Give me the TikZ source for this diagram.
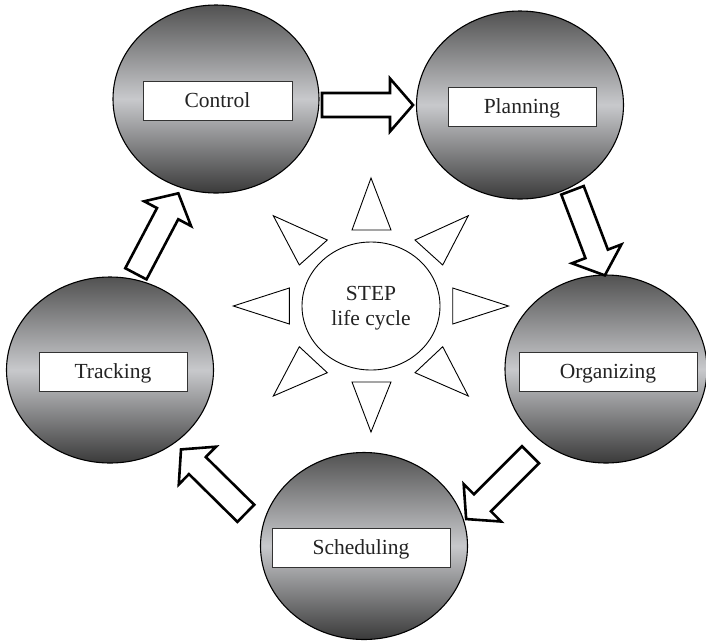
\documentclass[tikz,border=0pt]{standalone}
\usepackage{fontspec}
\setmainfont{Liberation Serif}
\usetikzlibrary{shapes.geometric}
\definecolor{shadetop}{RGB}{82,82,82}
\definecolor{shademid}{RGB}{200,201,204}
\definecolor{shadebot}{RGB}{58,58,58}
\definecolor{inktext}{RGB}{35,35,35}
\begin{document}
\begin{tikzpicture}[x=1pt,y=-1pt,
  phasecircle/.style={ellipse, draw=black, line width=1.1pt, inner sep=0pt, outer sep=0pt,
    top color=shadetop, bottom color=shadebot, middle color=shademid},
  namebox/.style={draw=black!80, fill=white, line width=0.8pt, minimum height=39pt,
    inner sep=0pt, outer sep=0pt, text height=14.5pt, text depth=0pt, text=inktext,
    font=\fontsize{21.5}{25}\selectfont},
  ray/.style={draw=black, line width=0.9pt, line join=miter, fill=white},
  blockarrow/.pic={\draw[line width=2.6pt, line join=miter, fill=white]
    (0,-12) -- (68,-12) -- (68,-26.5) -- (91,0) -- (68,26.5) -- (68,12) -- (0,12) -- cycle;}
]
\useasboundingbox (0,0) rectangle (706,641);

% the five phases
\node[phasecircle, minimum width=206pt, minimum height=188pt] (ctrl)  at (216,99)  {};
\node[phasecircle, minimum width=207pt, minimum height=188pt] (plan)  at (520,105) {};
\node[phasecircle, minimum width=202pt, minimum height=188pt] (org)   at (606,369) {};
\node[phasecircle, minimum width=207pt, minimum height=187pt] (sched) at (364,546) {};
\node[phasecircle, minimum width=207pt, minimum height=186pt] (track) at (110,370) {};

\node[namebox, minimum width=149pt] (ctrlname)  at (217.5,100.5) {Control};
\node[namebox, minimum width=148pt] (planname)  at (522,106.5)   {Planning};
\node[namebox, minimum width=178pt] (orgname)   at (608,371.5)   {Organizing};
\node[namebox, minimum width=178pt] (schedname) at (361,547.5)   {Scheduling};
\node[namebox, minimum width=148pt] (trackname) at (113,371.5)   {Tracking};

% cycle arrows
\pic[rotate=0]      at (322,105)       {blockarrow};
\pic[rotate=-69.2]  at (572.5,190.3)   {blockarrow};
\pic[rotate=-135]   at (530.5,454.7)   {blockarrow};
\pic[rotate=135.4]  at (245.8,513.3)   {blockarrow};
\pic[rotate=62.2]   at (135.9,273.8)   {blockarrow};

% centre with its rays
\node[ellipse, draw=black, line width=0.9pt, fill=white, inner sep=0pt,
  minimum width=138pt, minimum height=128pt] (step) at (371,306) {};
\node[align=center, font=\fontsize{21.5}{25}\selectfont, text=inktext, inner sep=0pt] (steptext)
  at (371,308.5) {STEP\\life cycle};

\path[ray] (371,178) -- (352,230) -- (391,230) -- cycle;
\path[ray] (468.3,215.7) -- (415,240) -- (442.7,265) -- cycle;
\path[ray] (508.5,306) -- (452.7,288) -- (452.7,324) -- cycle;
\path[ray] (442.7,346.7) -- (415,372.7) -- (468.3,396) -- cycle;
\path[ray] (352,382) -- (391,382) -- (371,432) -- cycle;
\path[ray] (299.3,346.7) -- (327.3,372.7) -- (273.3,396) -- cycle;
\path[ray] (233.3,306) -- (289.3,288) -- (289.3,324) -- cycle;
\path[ray] (273.3,215.7) -- (327.3,240) -- (299.3,265) -- cycle;
\end{tikzpicture}
\end{document}
